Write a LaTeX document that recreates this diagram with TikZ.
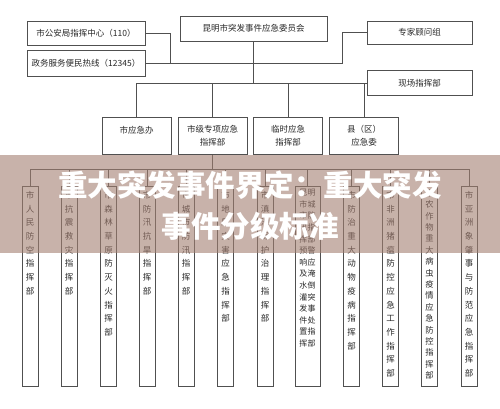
\documentclass[tikz,border=0pt]{standalone}
\usepackage{fontspec}
\usetikzlibrary{positioning}
\newfontfamily\cjk{Noto Sans CJK SC}
\XeTeXlinebreaklocale "zh"
\XeTeXlinebreakskip=0pt plus 1pt
\definecolor{linegray}{RGB}{80,80,80}
\definecolor{textgray}{RGB}{40,40,40}
\definecolor{bandbrown}{RGB}{163,127,113}

\begin{document}
\begin{tikzpicture}[x=1pt, y=-1pt,
  box/.style={draw=linegray, line width=0.9pt, fill=white, text=textgray,
    font=\cjk\fontsize{8.5}{13}\selectfont, inner sep=0pt},
  midbox/.style={box, minimum width=69pt, minimum height=37pt, align=center, anchor=north},
  colbox/.style={draw=linegray, line width=0.9pt, fill=white, minimum width=16pt,
    minimum height=200pt, anchor=north, inner sep=0pt},
  coltext/.style={text=textgray, font=\cjk\fontsize{8.5}{13.7}\selectfont,
    text width=9pt, align=center, inner sep=0pt},
  wire/.style={draw=linegray, line width=0.9pt}]
  \useasboundingbox (0,0) rectangle (500,408);

  % top level
  \node[box, minimum width=118pt, minimum height=24pt] (police) at (86,33) {市公安局指挥中心（110）};
  \node[box, minimum width=118pt, minimum height=26pt] (hotline) at (86,63) {政务服务便民热线（12345）};
  \node[box, minimum width=147pt, minimum height=25pt] (cmte) at (253.5,28.5) {昆明市突发事件应急委员会};
  \node[box, minimum width=105pt, minimum height=23pt] (expert) at (419.5,32.5) {专家顾问组};
  \node[box, minimum width=105pt, minimum height=25pt] (scene) at (419.5,83) {现场指挥部};

  \coordinate (j1) at (170,63);
  \coordinate (j2) at (342,63);
  \coordinate (bus) at (253.5,83);
  \coordinate (low) at (212.5,169);

  \draw[wire] (police.east) -| (j1);
  \draw[wire] (hotline.east) -- (j2) |- (expert.west);
  \draw[wire] (cmte.south) -- (bus);

  % second level
  \node[midbox] (office) at (136.5,117) {市应急办\\~};
  \node[midbox] (special) at (212.5,117) {市级专项应急\\指挥部};
  \node[midbox] (temp) at (288,117) {临时应急\\指挥部};
  \node[midbox] (county) at (364,117) {县（区）\\应急委};

  \draw[wire] (office.north) |- (scene.west);
  \draw[wire] (special.north) -- (special.north |- bus);
  \draw[wire] (temp.north) -- (temp.north |- bus);
  \draw[wire] (county.north) -- (county.north |- bus);
  \draw[wire] (special.south) -- (low);

  % command columns
  \node[colbox] (k1) at (30,186) {};
  \node[colbox] (k2) at (69,186) {};
  \node[colbox] (k3) at (108.5,186) {};
  \node[colbox] (k4) at (147,186) {};
  \node[colbox] (k5) at (186,186) {};
  \node[colbox] (k6) at (225.5,186) {};
  \node[colbox] (k7) at (265,186) {};
  \node[colbox, minimum width=25pt] (k8) at (307.5,186) {};
  \node[colbox] (k9) at (351.5,186) {};
  \node[colbox] (k10) at (390.5,186) {};
  \node[colbox] (k11) at (429.5,186) {};
  \node[colbox] (k12) at (469,186) {};

  \draw[wire] (k1.north) -- (k1.north |- low) -| (k12.north);
  \foreach \i in {2,...,11}
    \draw[wire] (k\i.north) -- (k\i.north |- low);

  \node[coltext, below=5pt of k1.north] (t1) {市人民防空指挥部};
  \node[coltext, below=5pt of k2.north] (t2) {市抗震救灾指挥部};
  \node[coltext, below=5pt of k3.north] (t3) {市森林草原防灭火指挥部};
  \node[coltext, below=5pt of k4.north] (t4) {市防汛抗旱指挥部};
  \node[coltext, below=5pt of k5.north] (t5) {市城市防汛指挥部};
  \node[coltext, below=5pt of k6.north] (t6) {市地质灾害应急指挥部};
  \node[coltext, below=5pt of k7.north] (t7) {市滇池保护治理指挥部};
  \node[coltext, below=3pt of k8.north, text width=17pt,
    font=\cjk\fontsize{8}{11.6}\selectfont] (t8) {昆明市城市防汛指挥部预警响应及淹水倒灌突发事件处置指挥部};
  \node[coltext, below=5pt of k9.north] (t9) {市防治重大动物疫病指挥部};
  \node[coltext, below=5pt of k10.north] (t10) {市非洲猪瘟防控应急工作指挥部};
  \node[coltext, below=3pt of k11.north, font=\cjk\fontsize{8.3}{11.4}\selectfont] (t11) {市农作物重大病虫疫情应急防控指挥部};
  \node[coltext, below=5pt of k12.north] (t12) {市亚洲象肇事与防范应急指挥部};

  % title band
  \fill[bandbrown, opacity=0.6] (0,155) rectangle (500,253);
  \node[text=white, font=\cjk\bfseries\fontsize{29.5}{41}\selectfont, align=center] (title)
    at (250,205.5) {重大突发事件界定：重大突发\\事件分级标准};
\end{tikzpicture}
\end{document}
